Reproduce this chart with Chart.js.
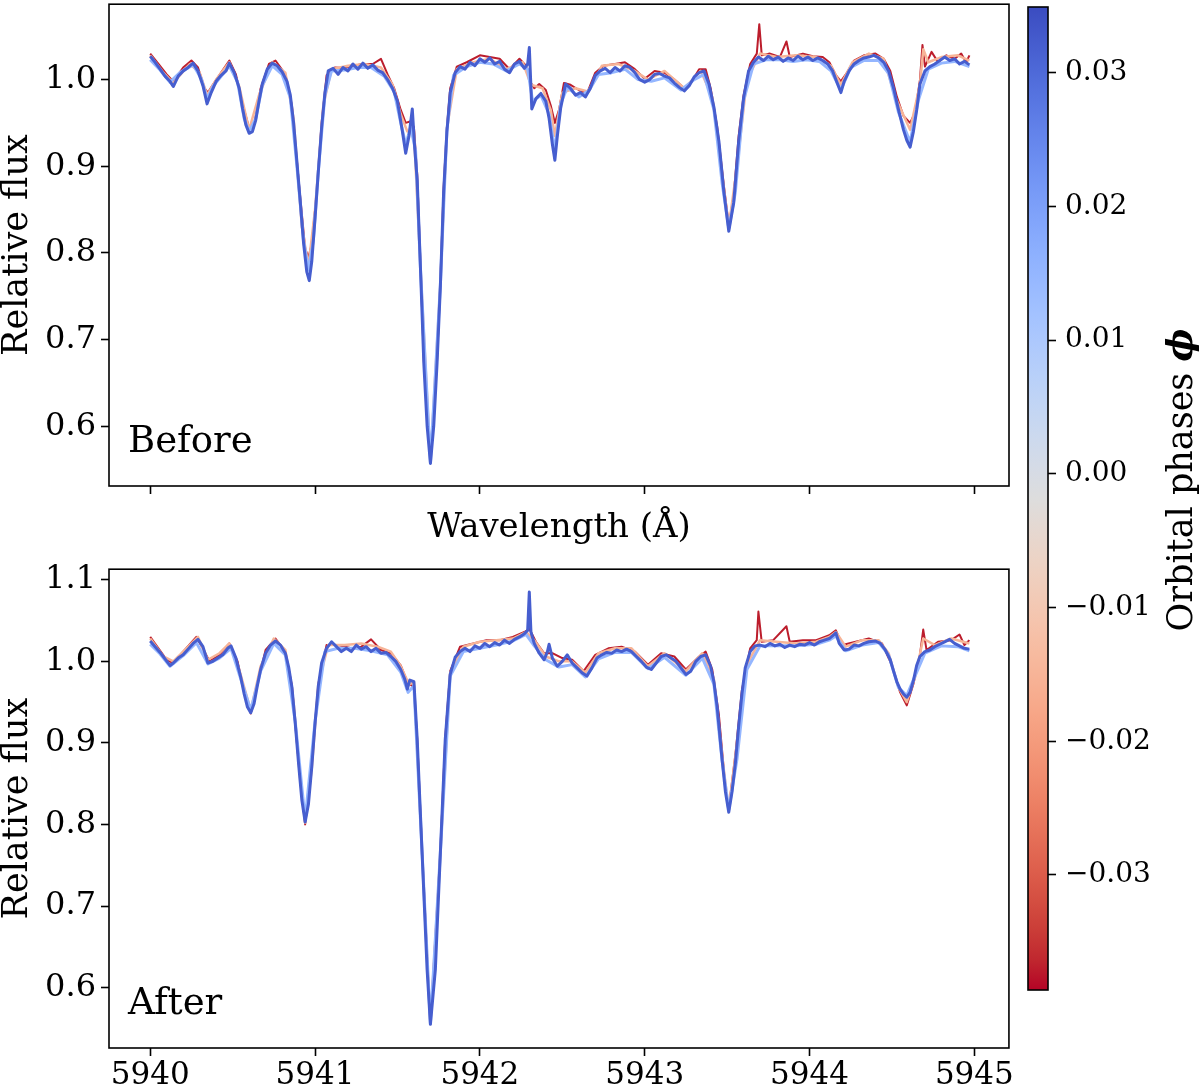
<!DOCTYPE html>
<html>
<head>
<meta charset="utf-8">
<title>Spectra before / after</title>
<script src="https://cdn.jsdelivr.net/npm/chart.js@4.4.0/dist/chart.umd.min.js"></script>
<style>
    html, body { margin: 0; padding: 0; background: #fff; overflow: hidden; }
    #wrap { position: relative; width: 1200px; height: 1091px; overflow: hidden; }
    .box  { position: absolute; }
</style>
</head>
<body>
<div id="wrap">
    <div class="box" style="left:0;top:-20px;width:1015px;height:565px"><canvas id="before-chart"></canvas></div>
    <div class="box" style="left:0;top:545px;width:1015px;height:546px"><canvas id="after-chart"></canvas></div>
    <div class="box" style="left:1015px;top:-20px;width:185px;height:1111px"><canvas id="phase-bar"></canvas></div>
</div>
<script>
// ---- axes / ticks ----
const WAVE_MIN = 5939.75;
const WAVE_MAX = 5945.21;
const WAVE_TICKS = [5940, 5941, 5942, 5943, 5944, 5945];
const BEFORE_TICKS = [0.6, 0.7, 0.8, 0.9, 1.0];
const AFTER_TICKS  = [0.6, 0.7, 0.8, 0.9, 1.0, 1.1];
const PHASE_MIN = -0.0386;
const PHASE_MAX = 0.0349;
const PHASE_TICKS = [-0.03, -0.02, -0.01, 0.00, 0.01, 0.02, 0.03];

// orbital phase of each plotted spectrum (same order as the series below)
const PHASES = [0.032, 0.015, -0.015, -0.037];

// ---- Before: [wavelength, flux] ----
const BEFORE_BLUE = [
    [5940.00,1.027],[5940.03,1.020],[5940.06,1.012],[5940.09,1.004],[5940.12,0.998],[5940.14,0.992],
    [5940.17,1.004],[5940.20,1.010],[5940.23,1.014],[5940.26,1.019],[5940.29,1.010],[5940.32,0.993],
    [5940.345,0.972],[5940.37,0.985],[5940.40,0.998],[5940.43,1.005],[5940.46,1.010],[5940.48,1.019],
    [5940.51,1.008],[5940.54,0.990],[5940.56,0.967],[5940.58,0.948],[5940.60,0.938],[5940.62,0.940],
    [5940.64,0.953],[5940.66,0.975],[5940.68,0.995],[5940.71,1.012],[5940.74,1.019],[5940.77,1.016],
    [5940.80,1.009],[5940.83,0.998],[5940.85,0.982],[5940.87,0.950],[5940.89,0.905],[5940.91,0.860],
    [5940.93,0.812],[5940.95,0.778],[5940.965,0.768],[5940.98,0.790],[5941.00,0.840],[5941.02,0.894],
    [5941.04,0.945],[5941.06,0.985],[5941.08,1.010],[5941.11,1.013],[5941.14,1.006],[5941.17,1.014],
    [5941.20,1.010],[5941.23,1.018],[5941.26,1.012],[5941.29,1.019],[5941.32,1.013],[5941.35,1.017],
    [5941.38,1.011],[5941.41,1.008],[5941.44,1.000],[5941.47,0.990],[5941.50,0.975],[5941.53,0.940],
    [5941.55,0.915],[5941.57,0.935],[5941.59,0.966],[5941.605,0.920],[5941.62,0.883],[5941.64,0.780],
    [5941.66,0.672],[5941.68,0.600],[5941.70,0.557],[5941.72,0.600],[5941.74,0.672],[5941.76,0.760],
    [5941.78,0.870],[5941.80,0.940],[5941.82,0.985],[5941.85,1.008],[5941.88,1.015],[5941.91,1.012],
    [5941.94,1.020],[5941.97,1.016],[5942.00,1.024],[5942.03,1.020],[5942.06,1.025],[5942.09,1.018],
    [5942.12,1.021],[5942.15,1.012],[5942.18,1.008],[5942.21,1.018],[5942.24,1.021],[5942.27,1.013],
    [5942.29,1.018],[5942.30,1.037],[5942.315,0.966],[5942.34,0.978],[5942.37,0.984],[5942.40,0.975],
    [5942.42,0.955],[5942.44,0.925],[5942.455,0.907],[5942.47,0.935],[5942.49,0.967],[5942.52,0.995],
    [5942.55,0.990],[5942.58,0.982],[5942.61,0.985],[5942.64,0.980],[5942.67,0.990],[5942.70,1.005],
    [5942.73,1.010],[5942.76,1.013],[5942.79,1.008],[5942.82,1.014],[5942.85,1.010],[5942.88,1.016],
    [5942.91,1.014],[5942.94,1.008],[5942.97,1.000],[5943.00,0.997],[5943.03,1.000],[5943.06,1.006],
    [5943.09,1.007],[5943.12,1.004],[5943.15,1.002],[5943.18,0.996],[5943.21,0.991],[5943.24,0.987],
    [5943.27,0.993],[5943.30,1.003],[5943.33,1.008],[5943.36,1.010],[5943.39,0.995],[5943.42,0.968],
    [5943.45,0.929],[5943.48,0.871],[5943.51,0.825],[5943.54,0.858],[5943.57,0.929],[5943.60,0.979],
    [5943.63,1.010],[5943.66,1.020],[5943.69,1.026],[5943.72,1.022],[5943.75,1.027],[5943.78,1.023],
    [5943.81,1.026],[5943.84,1.021],[5943.87,1.025],[5943.90,1.022],[5943.93,1.027],[5943.96,1.023],
    [5943.99,1.026],[5944.02,1.022],[5944.05,1.025],[5944.08,1.022],[5944.11,1.018],[5944.14,1.010],
    [5944.17,0.995],[5944.19,0.985],[5944.21,0.998],[5944.24,1.010],[5944.27,1.018],[5944.30,1.022],
    [5944.33,1.025],[5944.36,1.026],[5944.39,1.028],[5944.42,1.025],[5944.45,1.020],[5944.48,1.010],
    [5944.51,0.990],[5944.54,0.965],[5944.57,0.942],[5944.59,0.930],[5944.61,0.922],[5944.63,0.940],
    [5944.65,0.965],[5944.67,0.995],[5944.70,1.010],[5944.73,1.015],[5944.76,1.018],[5944.79,1.022],
    [5944.82,1.026],[5944.85,1.022],[5944.88,1.024],[5944.91,1.018],[5944.94,1.021],[5944.97,1.017]
];
const BEFORE_LIGHT = [
    [5940.00,1.023],[5940.06,1.011],[5940.12,0.997],[5940.18,1.008],[5940.26,1.017],[5940.31,1.001],
    [5940.345,0.978],[5940.38,0.992],[5940.44,1.006],[5940.48,1.016],[5940.53,0.997],[5940.57,0.955],
    [5940.60,0.940],[5940.64,0.955],[5940.68,0.993],[5940.74,1.016],[5940.80,1.006],[5940.85,0.979],
    [5940.89,0.900],[5940.93,0.815],[5940.96,0.780],[5940.99,0.815],[5941.02,0.895],[5941.06,0.982],
    [5941.10,1.010],[5941.18,1.011],[5941.26,1.014],[5941.34,1.014],[5941.42,1.004],[5941.48,0.986],
    [5941.52,0.950],[5941.55,0.925],[5941.58,0.945],[5941.61,0.918],[5941.64,0.780],[5941.70,0.558],
    [5941.76,0.762],[5941.80,0.942],[5941.84,1.005],[5941.92,1.015],[5942.00,1.020],[5942.08,1.018],
    [5942.16,1.010],[5942.24,1.018],[5942.29,1.012],[5942.32,0.975],[5942.37,0.982],[5942.42,0.960],
    [5942.455,0.918],[5942.49,0.972],[5942.53,0.991],[5942.60,0.980],[5942.66,0.987],[5942.72,1.006],
    [5942.80,1.008],[5942.88,1.012],[5942.96,1.000],[5943.04,0.998],[5943.12,1.002],[5943.22,0.988],
    [5943.30,1.000],[5943.36,1.006],[5943.42,0.965],[5943.47,0.880],[5943.51,0.828],[5943.55,0.870],
    [5943.60,0.976],[5943.66,1.018],[5943.74,1.023],[5943.82,1.023],[5943.90,1.021],[5943.98,1.023],
    [5944.06,1.021],[5944.13,1.010],[5944.19,0.988],[5944.25,1.014],[5944.33,1.022],[5944.42,1.022],
    [5944.48,1.007],[5944.54,0.962],[5944.61,0.928],[5944.66,0.976],[5944.72,1.012],[5944.80,1.019],
    [5944.88,1.021],[5944.97,1.015]
];
const BEFORE_SALMON = [
    [5940.00,1.028],[5940.08,1.008],[5940.14,0.996],[5940.24,1.018],[5940.30,1.008],[5940.345,0.982],
    [5940.40,1.000],[5940.48,1.020],[5940.54,0.992],[5940.60,0.942],[5940.66,0.982],[5940.74,1.020],
    [5940.82,1.008],[5940.87,0.955],[5940.92,0.830],[5940.96,0.785],[5941.00,0.850],[5941.05,0.970],
    [5941.10,1.012],[5941.20,1.016],[5941.30,1.018],[5941.40,1.014],[5941.47,0.994],[5941.52,0.960],
    [5941.56,0.940],[5941.60,0.940],[5941.64,0.782],[5941.70,0.559],[5941.76,0.764],[5941.80,0.944],
    [5941.86,1.012],[5941.96,1.020],[5942.06,1.024],[5942.16,1.012],[5942.26,1.020],[5942.31,0.994],
    [5942.38,0.990],[5942.43,0.965],[5942.455,0.935],[5942.50,0.985],[5942.58,0.990],[5942.66,0.986],
    [5942.74,1.016],[5942.84,1.018],[5942.94,1.010],[5943.02,1.000],[5943.12,1.010],[5943.24,0.990],
    [5943.34,1.010],[5943.41,0.980],[5943.47,0.890],[5943.51,0.830],[5943.56,0.900],[5943.62,1.000],
    [5943.70,1.030],[5943.80,1.026],[5943.92,1.028],[5944.04,1.026],[5944.13,1.016],[5944.19,0.994],
    [5944.26,1.020],[5944.36,1.030],[5944.45,1.024],[5944.52,0.980],[5944.61,0.942],[5944.67,0.995],
    [5944.69,1.035],[5944.72,1.020],[5944.80,1.026],[5944.90,1.028],[5944.97,1.022]
];
const BEFORE_RED = [
    [5940.00,1.030],[5940.05,1.018],[5940.10,1.006],[5940.14,0.998],[5940.20,1.014],[5940.25,1.022],
    [5940.29,1.014],[5940.33,0.990],[5940.35,0.985],[5940.38,0.994],[5940.43,1.008],[5940.48,1.022],
    [5940.52,1.006],[5940.56,0.972],[5940.60,0.944],[5940.63,0.948],[5940.67,0.990],[5940.72,1.018],
    [5940.76,1.022],[5940.82,1.006],[5940.86,0.970],[5940.90,0.885],[5940.94,0.805],[5940.96,0.795],
    [5940.98,0.810],[5941.01,0.870],[5941.04,0.950],[5941.07,1.005],[5941.12,1.014],[5941.20,1.013],
    [5941.28,1.018],[5941.35,1.018],[5941.40,1.024],[5941.44,1.006],[5941.48,0.990],[5941.52,0.965],
    [5941.55,0.950],[5941.58,0.952],[5941.60,0.945],[5941.62,0.890],[5941.64,0.785],[5941.66,0.675],
    [5941.70,0.560],[5941.74,0.675],[5941.76,0.765],[5941.78,0.875],[5941.80,0.945],[5941.82,0.990],
    [5941.86,1.015],[5941.92,1.020],[5942.00,1.028],[5942.06,1.026],[5942.12,1.024],[5942.18,1.012],
    [5942.24,1.024],[5942.28,1.016],[5942.31,0.996],[5942.33,0.990],[5942.36,0.995],[5942.40,0.988],
    [5942.43,0.970],[5942.455,0.950],[5942.48,0.965],[5942.51,0.996],[5942.55,0.994],[5942.60,0.988],
    [5942.65,0.984],[5942.70,1.008],[5942.75,1.016],[5942.82,1.018],[5942.88,1.020],[5942.94,1.012],
    [5943.00,1.001],[5943.06,1.010],[5943.12,1.008],[5943.18,1.000],[5943.24,0.990],[5943.28,0.996],
    [5943.33,1.012],[5943.37,1.012],[5943.40,0.990],[5943.44,0.945],[5943.48,0.878],[5943.51,0.832],
    [5943.54,0.866],[5943.57,0.935],[5943.60,0.982],[5943.64,1.018],[5943.68,1.030],[5943.695,1.064],
    [5943.71,1.028],[5943.76,1.030],[5943.82,1.026],[5943.86,1.044],[5943.88,1.026],[5943.96,1.030],
    [5944.02,1.027],[5944.08,1.026],[5944.12,1.020],[5944.16,1.005],[5944.19,0.998],[5944.22,1.006],
    [5944.27,1.022],[5944.33,1.028],[5944.40,1.030],[5944.45,1.024],[5944.49,1.010],[5944.53,0.980],
    [5944.57,0.958],[5944.61,0.950],[5944.64,0.962],[5944.67,1.000],[5944.685,1.040],[5944.70,1.015],
    [5944.74,1.032],[5944.78,1.020],[5944.83,1.028],[5944.88,1.024],[5944.92,1.030],[5944.95,1.020],
    [5944.97,1.028]
];

// ---- After: [wavelength, flux] ----
const AFTER_BLUE = [
    [5940.00,1.025],[5940.03,1.018],[5940.06,1.011],[5940.09,1.003],[5940.12,0.995],[5940.14,0.998],
    [5940.17,1.004],[5940.20,1.008],[5940.23,1.015],[5940.26,1.022],[5940.29,1.027],[5940.32,1.018],
    [5940.35,0.998],[5940.38,1.000],[5940.41,1.004],[5940.44,1.008],[5940.47,1.016],[5940.49,1.019],
    [5940.52,1.004],[5940.55,0.980],[5940.57,0.960],[5940.59,0.944],[5940.61,0.937],[5940.63,0.948],
    [5940.65,0.970],[5940.67,0.990],[5940.70,1.010],[5940.73,1.020],[5940.76,1.025],[5940.79,1.020],
    [5940.82,1.010],[5940.84,0.993],[5940.86,0.968],[5940.88,0.924],[5940.90,0.875],[5940.92,0.830],
    [5940.94,0.803],[5940.96,0.825],[5940.98,0.870],[5941.00,0.924],[5941.02,0.970],[5941.04,0.998],
    [5941.07,1.016],[5941.10,1.024],[5941.13,1.018],[5941.16,1.012],[5941.19,1.016],[5941.22,1.012],
    [5941.25,1.020],[5941.28,1.015],[5941.31,1.018],[5941.34,1.012],[5941.37,1.016],[5941.40,1.010],
    [5941.43,1.011],[5941.46,1.006],[5941.49,1.000],[5941.52,0.990],[5941.545,0.978],[5941.56,0.966],
    [5941.575,0.977],[5941.60,0.975],[5941.62,0.904],[5941.65,0.763],[5941.68,0.622],[5941.70,0.555],
    [5941.73,0.622],[5941.76,0.763],[5941.79,0.904],[5941.82,0.984],[5941.85,1.005],[5941.88,1.012],
    [5941.91,1.016],[5941.94,1.012],[5941.97,1.019],[5942.00,1.016],[5942.03,1.022],[5942.06,1.018],
    [5942.09,1.023],[5942.12,1.020],[5942.15,1.026],[5942.18,1.022],[5942.21,1.027],[5942.24,1.030],
    [5942.27,1.034],[5942.29,1.038],[5942.30,1.085],[5942.31,1.036],[5942.33,1.022],[5942.36,1.010],
    [5942.39,1.002],[5942.41,1.012],[5942.42,1.021],[5942.44,1.004],[5942.47,0.994],[5942.50,1.000],
    [5942.53,1.008],[5942.56,0.998],[5942.59,0.992],[5942.62,0.986],[5942.65,0.982],[5942.68,0.992],
    [5942.71,1.004],[5942.74,1.008],[5942.77,1.011],[5942.80,1.010],[5942.83,1.014],[5942.86,1.012],
    [5942.89,1.015],[5942.92,1.012],[5942.95,1.006],[5942.98,1.000],[5943.01,0.993],[5943.04,0.990],
    [5943.07,0.998],[5943.10,1.006],[5943.13,1.008],[5943.16,1.004],[5943.19,1.000],[5943.22,0.992],
    [5943.25,0.984],[5943.28,0.988],[5943.31,1.000],[5943.34,1.006],[5943.37,1.008],[5943.40,0.994],
    [5943.42,0.975],[5943.44,0.944],[5943.47,0.879],[5943.49,0.840],[5943.51,0.815],[5943.53,0.840],
    [5943.55,0.875],[5943.57,0.920],[5943.59,0.960],[5943.61,0.992],[5943.64,1.012],[5943.67,1.019],
    [5943.70,1.020],[5943.73,1.018],[5943.76,1.022],[5943.79,1.019],[5943.82,1.021],[5943.85,1.017],
    [5943.88,1.020],[5943.91,1.018],[5943.94,1.021],[5943.97,1.020],[5944.00,1.023],[5944.03,1.020],
    [5944.06,1.024],[5944.09,1.026],[5944.12,1.028],[5944.15,1.033],[5944.16,1.035],[5944.18,1.022],
    [5944.21,1.014],[5944.24,1.015],[5944.27,1.020],[5944.30,1.019],[5944.33,1.022],[5944.36,1.024],
    [5944.40,1.025],[5944.43,1.022],[5944.46,1.014],[5944.49,1.002],[5944.51,0.988],[5944.53,0.975],
    [5944.55,0.966],[5944.57,0.960],[5944.59,0.956],[5944.61,0.962],[5944.63,0.976],[5944.65,0.995],
    [5944.67,1.006],[5944.70,1.012],[5944.73,1.014],[5944.76,1.018],[5944.79,1.021],[5944.82,1.024],
    [5944.85,1.027],[5944.88,1.022],[5944.91,1.019],[5944.94,1.016],[5944.97,1.015]
];
const AFTER_LIGHT = [
    [5940.00,1.021],[5940.06,1.009],[5940.12,0.994],[5940.20,1.007],[5940.28,1.023],[5940.35,0.997],
    [5940.42,1.004],[5940.49,1.016],[5940.55,0.978],[5940.61,0.940],[5940.67,0.988],[5940.75,1.022],
    [5940.82,1.008],[5940.88,0.926],[5940.94,0.806],[5941.00,0.926],[5941.06,1.012],[5941.14,1.016],
    [5941.24,1.016],[5941.34,1.013],[5941.44,1.008],[5941.52,0.987],[5941.565,0.962],[5941.60,0.970],
    [5941.65,0.764],[5941.70,0.556],[5941.76,0.764],[5941.82,0.982],[5941.90,1.012],[5942.00,1.016],
    [5942.10,1.020],[5942.20,1.025],[5942.28,1.033],[5942.33,1.019],[5942.40,1.002],[5942.48,0.993],
    [5942.56,0.996],[5942.64,0.981],[5942.72,1.003],[5942.82,1.011],[5942.92,1.011],[5943.02,0.991],
    [5943.12,1.005],[5943.25,0.983],[5943.35,1.004],[5943.42,0.972],[5943.47,0.878],[5943.51,0.818],
    [5943.56,0.880],[5943.62,0.990],[5943.70,1.019],[5943.80,1.019],[5943.92,1.019],[5944.04,1.021],
    [5944.12,1.026],[5944.16,1.031],[5944.22,1.013],[5944.32,1.020],[5944.42,1.023],[5944.48,1.008],
    [5944.54,0.968],[5944.59,0.958],[5944.64,0.982],[5944.70,1.010],[5944.80,1.019],[5944.90,1.018],
    [5944.97,1.013]
];
const AFTER_SALMON = [
    [5940.00,1.028],[5940.08,1.006],[5940.14,1.000],[5940.22,1.016],[5940.29,1.030],[5940.35,1.002],
    [5940.42,1.010],[5940.48,1.022],[5940.54,0.990],[5940.61,0.940],[5940.67,0.994],[5940.75,1.028],
    [5940.82,1.014],[5940.87,0.950],[5940.91,0.855],[5940.94,0.802],[5940.98,0.868],[5941.02,0.972],
    [5941.08,1.020],[5941.18,1.020],[5941.28,1.022],[5941.38,1.018],[5941.46,1.012],[5941.52,0.994],
    [5941.57,0.972],[5941.60,0.974],[5941.65,0.764],[5941.70,0.556],[5941.76,0.764],[5941.82,0.986],
    [5941.90,1.018],[5942.00,1.024],[5942.10,1.026],[5942.20,1.028],[5942.28,1.036],[5942.33,1.026],
    [5942.40,1.006],[5942.48,1.000],[5942.56,1.000],[5942.64,0.986],[5942.72,1.010],[5942.82,1.016],
    [5942.92,1.016],[5943.02,0.994],[5943.12,1.010],[5943.25,0.988],[5943.35,1.010],[5943.42,0.978],
    [5943.47,0.884],[5943.51,0.818],[5943.56,0.900],[5943.62,0.996],[5943.70,1.026],[5943.80,1.024],
    [5943.92,1.022],[5944.04,1.024],[5944.12,1.030],[5944.16,1.036],[5944.22,1.018],[5944.32,1.026],
    [5944.42,1.026],[5944.48,1.010],[5944.54,0.968],[5944.59,0.950],[5944.64,0.980],[5944.69,1.028],
    [5944.76,1.020],[5944.86,1.028],[5944.97,1.022]
];
const AFTER_RED = [
    [5940.00,1.030],[5940.05,1.016],[5940.10,1.002],[5940.14,0.998],[5940.20,1.012],[5940.28,1.030],
    [5940.33,1.012],[5940.36,1.000],[5940.42,1.008],[5940.48,1.022],[5940.53,1.000],[5940.57,0.962],
    [5940.61,0.936],[5940.65,0.972],[5940.70,1.014],[5940.76,1.028],[5940.82,1.012],[5940.86,0.970],
    [5940.90,0.878],[5940.94,0.800],[5940.98,0.872],[5941.02,0.972],[5941.07,1.020],[5941.14,1.020],
    [5941.22,1.016],[5941.28,1.018],[5941.34,1.027],[5941.40,1.014],[5941.46,1.010],[5941.52,0.995],
    [5941.56,0.975],[5941.60,0.968],[5941.62,0.905],[5941.65,0.765],[5941.70,0.556],[5941.76,0.765],
    [5941.79,0.906],[5941.82,0.988],[5941.88,1.018],[5941.96,1.022],[5942.04,1.026],[5942.12,1.026],
    [5942.20,1.030],[5942.27,1.036],[5942.30,1.040],[5942.34,1.024],[5942.39,1.010],[5942.44,1.010],
    [5942.50,1.004],[5942.56,1.002],[5942.63,0.988],[5942.70,1.008],[5942.78,1.016],[5942.86,1.018],
    [5942.94,1.012],[5943.02,0.996],[5943.10,1.010],[5943.18,1.006],[5943.25,0.990],[5943.32,1.004],
    [5943.37,1.012],[5943.41,0.990],[5943.45,0.935],[5943.49,0.845],[5943.51,0.820],[5943.55,0.885],
    [5943.59,0.965],[5943.64,1.016],[5943.68,1.026],[5943.69,1.061],[5943.71,1.024],[5943.78,1.026],
    [5943.86,1.043],[5943.88,1.024],[5943.96,1.026],[5944.04,1.026],[5944.12,1.032],[5944.16,1.038],
    [5944.20,1.020],[5944.28,1.024],[5944.36,1.028],[5944.44,1.022],[5944.50,0.995],[5944.55,0.962],
    [5944.59,0.946],[5944.63,0.972],[5944.67,1.008],[5944.69,1.039],[5944.71,1.014],[5944.78,1.024],
    [5944.86,1.026],[5944.91,1.033],[5944.94,1.020],[5944.97,1.026]
];

// matplotlib "coolwarm" colour map (blue -> red)
const COOLWARM = [
    [59,76,192],[68,90,204],[77,104,215],[87,117,225],[98,130,234],[108,142,241],[119,154,247],
    [130,165,251],[141,176,254],[152,185,255],[163,194,255],[174,201,253],[184,208,249],[194,213,244],
    [204,217,238],[213,219,230],[221,221,221],[229,216,209],[236,211,197],[241,204,185],[245,196,173],
    [247,187,160],[247,177,148],[247,166,135],[244,154,123],[241,141,111],[236,127,99],[229,112,88],
    [222,96,77],[213,80,66],[203,62,56],[192,40,47],[180,4,38]
];

const FONT = "'DejaVu Serif', serif";
const LINE_WIDTH = [3, 3, 2.5, 2];

function coolwarm(t) {
    t = Math.min(1, Math.max(0, t));
    const p = t * (COOLWARM.length - 1);
    const i = Math.min(COOLWARM.length - 2, Math.floor(p));
    const f = p - i;
    const c = COOLWARM[i].map((v, k) => Math.round(v + (COOLWARM[i + 1][k] - v) * f));
    return `rgb(${c[0]}, ${c[1]}, ${c[2]})`;
}

// negative phases are red, positive blue (reversed map)
function phaseColor(phi) {
    return coolwarm(1 - (phi - PHASE_MIN) / (PHASE_MAX - PHASE_MIN));
}

function toPoints(pairs) {
    return pairs.map(p => ({ x: p[0], y: p[1] }));
}

function setTicks(values) {
    return function(scale) {
        scale.ticks = values.map(v => ({ value: v }));
    };
}

// box around the plot area + panel label
const framePlugin = {
    id: 'frame',
    afterDraw(chart, args, opts) {
        const a = chart.chartArea;
        const c = chart.ctx;
        c.save();
        c.strokeStyle = '#000';
        c.lineWidth = 1.6;
        c.strokeRect(a.left, a.top, a.right - a.left, a.bottom - a.top);
        if (opts.label) {
            c.font = `37px ${FONT}`;
            c.fillStyle = '#000';
            c.textBaseline = 'middle';
            c.fillText(opts.label, a.left + 19, a.bottom - 44);
        }
        c.restore();
    }
};

/**
 * spectrum panel ==========================================================
 */
function chartSpectra(canvasId, series, yMin, yMax, yTicks, label, isBottom) {
    const datasets = [];
    for (let i = 0; i < series.length; i++) {
        datasets.push({
            label: 'phase ' + PHASES[i],
            data: toPoints(series[i]),
            borderColor: phaseColor(PHASES[i]),
            borderWidth: LINE_WIDTH[i],
            borderJoinStyle: 'round',
            pointRadius: 0,
            tension: 0,
            fill: false,
        });
    }

    const config = {
        type: 'line',
        data: { datasets: datasets },
        plugins: [framePlugin],
        options: {
            animation: false,
            responsive: true,
            maintainAspectRatio: false,
            layout: { padding: { top: isBottom ? 21 : 22, right: 6, left: 0, bottom: 0 } },
            plugins: {
                legend: { display: false },
                tooltip: { enabled: false },
                frame: { label: label },
            },
            scales: {
                x: {
                    type: 'linear',
                    min: WAVE_MIN,
                    max: WAVE_MAX,
                    afterBuildTicks: setTicks(WAVE_TICKS),
                    afterFit: function(scale) { scale.height = isBottom ? 43 : 59; },
                    border: { display: false },
                    grid: { drawOnChartArea: false, drawTicks: true, tickLength: 8, tickWidth: 1.6, tickColor: '#000' },
                    ticks: {
                        color: '#000',
                        font: { family: FONT, size: 31 },
                        padding: 1,
                        maxRotation: 0,
                        autoSkip: false,
                        callback: function(v) { return isBottom ? String(v) : ''; },
                    },
                    title: {
                        display: !isBottom,
                        text: 'Wavelength (Å)',
                        color: '#000',
                        font: { family: FONT, size: 34, lineHeight: 1.0 },
                        padding: 0,
                    },
                },
                y: {
                    min: yMin,
                    max: yMax,
                    afterBuildTicks: setTicks(yTicks),
                    afterFit: function(scale) { scale.width = 109; },
                    border: { display: false },
                    grid: { drawOnChartArea: false, drawTicks: true, tickLength: 8, tickWidth: 1.6, tickColor: '#000' },
                    ticks: {
                        color: '#000',
                        font: { family: FONT, size: 32 },
                        padding: 5,
                        callback: function(v) { return v.toFixed(1); },
                    },
                    title: {
                        display: true,
                        text: 'Relative flux',
                        color: '#000',
                        font: { family: FONT, size: 35, lineHeight: 1.0 },
                        padding: 0,
                    },
                },
            },
        },
    };

    return new Chart(document.getElementById(canvasId), config);
}

/**
 * colour bar ==========================================================
 */
function chartPhaseBar() {
    const gradient = function(context) {
        const chart = context.chart;
        const a = chart.chartArea;
        if (!a) return coolwarm(0);
        const g = chart.ctx.createLinearGradient(0, a.bottom, 0, a.top);
        const n = COOLWARM.length;
        for (let k = 0; k < n; k++) {
            g.addColorStop(k / (n - 1), coolwarm(1 - k / (n - 1)));
        }
        return g;
    };

    const titlePlugin = {
        id: 'barTitle',
        afterDraw(chart) {
            const c = chart.ctx;
            const main = 'Orbital phases ';
            const sym = 'ϕ';
            c.save();
            c.translate(168, 500);
            c.rotate(-Math.PI / 2);
            c.fillStyle = '#000';
            c.textBaseline = 'middle';
            c.font = `35px ${FONT}`;
            const w1 = c.measureText(main).width;
            c.font = `italic bold 35px ${FONT}`;
            const w2 = c.measureText(sym).width;
            const x = -(w1 + w2) / 2;
            c.font = `35px ${FONT}`;
            c.fillText(main, x, 0);
            c.font = `italic bold 35px ${FONT}`;
            c.fillText(sym, x + w1, 0);
            c.restore();
        }
    };

    const config = {
        type: 'bar',
        data: {
            labels: [''],
            datasets: [{
                data: [[PHASE_MIN, PHASE_MAX]],
                backgroundColor: gradient,
                borderWidth: 0,
                barPercentage: 1,
                categoryPercentage: 1,
            }],
        },
        plugins: [framePlugin, titlePlugin],
        options: {
            animation: false,
            responsive: true,
            maintainAspectRatio: false,
            layout: { padding: { left: 13, top: 27, bottom: 101, right: 0 } },
            plugins: {
                legend: { display: false },
                tooltip: { enabled: false },
                frame: {},
            },
            scales: {
                x: { display: false },
                y: {
                    position: 'right',
                    min: PHASE_MIN,
                    max: PHASE_MAX,
                    afterBuildTicks: setTicks(PHASE_TICKS),
                    afterFit: function(scale) { scale.width = 152; },
                    border: { display: false },
                    grid: { drawOnChartArea: false, drawTicks: true, tickLength: 8, tickWidth: 1.6, tickColor: '#000' },
                    ticks: {
                        color: '#000',
                        font: { family: FONT, size: 28 },
                        padding: 9,
                        callback: function(v) {
                            const s = Math.abs(v).toFixed(2);
                            return v < -1e-9 ? '\u2212' + s : s;
                        },
                    },
                },
            },
        },
    };

    return new Chart(document.getElementById('phase-bar'), config);
}

chartSpectra('before-chart', [BEFORE_BLUE, BEFORE_LIGHT, BEFORE_SALMON, BEFORE_RED],
    0.531, 1.087, BEFORE_TICKS, 'Before', false);
chartSpectra('after-chart', [AFTER_BLUE, AFTER_LIGHT, AFTER_SALMON, AFTER_RED],
    0.526, 1.113, AFTER_TICKS, 'After', true);
chartPhaseBar();
</script>
</body>
</html>
